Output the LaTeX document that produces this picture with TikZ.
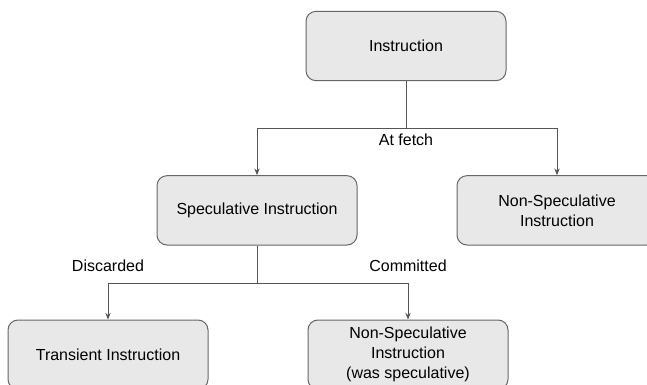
\documentclass[tikz,border=0pt]{standalone}
\usepackage{fontspec}
\setmainfont{Liberation Sans}
\usetikzlibrary{arrows.meta,positioning}

\definecolor{boxfill}{HTML}{E8E8E8}
\definecolor{boxline}{HTML}{666666}
\definecolor{wire}{HTML}{555555}

\begin{document}
\begin{tikzpicture}[
  font=\fontsize{12}{15}\selectfont,
  box/.style={draw=boxline, fill=boxfill, rounded corners=7.5pt, line width=0.75pt,
    minimum width=150pt, minimum height=52pt, align=center},
  link/.style={draw=wire, line width=0.75pt},
  arr/.style={link, -{Stealth[length=5pt,width=4pt]}}
]
\useasboundingbox (0,0) rectangle (485.25pt,-288.75pt);

\node[box] (instr) at (304.5pt,-34.5pt) {Instruction};
\node[box, below=70.5pt of instr, xshift=-111.75pt] (spec) {Speculative Instruction};
\node[box, right=74.25pt of spec] (nonspec) {Non-Speculative\\Instruction};
\node[box, below=55.5pt of spec, xshift=-111.75pt] (transient) {Transient Instruction};
\node[box, right=74.25pt of transient] (wasspec) {Non-Speculative\\Instruction\\(was speculative)};

% first split: at fetch
\draw[link] (instr.south) -- ++(0,-35.25pt) coordinate (fetchpt);
\draw[arr] (fetchpt) -| (spec.north);
\draw[arr] (fetchpt) -| (nonspec.north);
\node[below=1pt of fetchpt] (fetchlbl) {At fetch};

% second split: discarded / committed
\draw[link] (spec.south) -- ++(0,-28.5pt) coordinate (specpt);
\draw[arr] (specpt) -| (transient.north) coordinate[pos=0.5] (discpt);
\draw[arr] (specpt) -| (wasspec.north) coordinate[pos=0.5] (commpt);
\node[above=5pt of discpt] (disclbl) {Discarded};
\node[above=5pt of commpt] (commlbl) {Committed};

\end{tikzpicture}
\end{document}
